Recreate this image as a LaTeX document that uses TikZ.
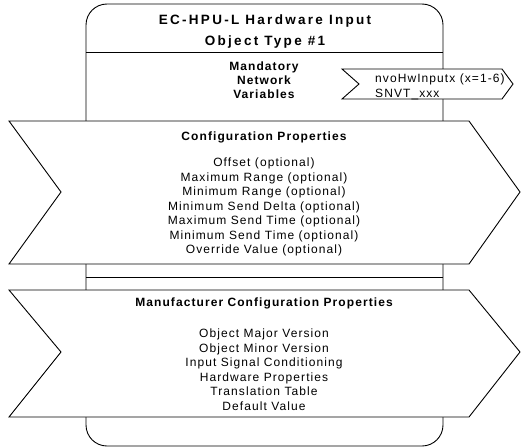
\documentclass[tikz,border=0pt]{standalone}
\usepackage{fontspec}
\newfontfamily\diafont[LetterSpace=9]{Liberation Sans}
\newfontfamily\headfont[LetterSpace=17]{Liberation Sans}
\begin{document}
\begin{tikzpicture}[x=1pt,y=-1pt,
  line/.style={draw=black,line width=0.9pt},
  chev/.style={draw=black,fill=white,line width=0.9pt,line join=miter},
  body/.style={font=\diafont\fontsize{12}{14.5}\selectfont,align=center,inner sep=0pt,anchor=base},
  bodyb/.style={font=\diafont\bfseries\fontsize{12}{14.2}\selectfont,align=center,inner sep=0pt,anchor=base},
  ttl/.style={font=\headfont\bfseries\fontsize{13.5}{21}\selectfont,align=center,inner sep=0pt,anchor=base}]
\useasboundingbox (0,0) rectangle (524,447);
% main object box
\draw[line,rounded corners=21pt] (86,4) rectangle (443,446);
\draw[line] (86,52) -- (443,52);
\draw[line] (86,277) -- (443,277);
% title (base anchor = last line baseline)
\node[ttl] (title) at (265,45.7) {EC-HPU-L Hardware Input\\Object Type \#1};
\node[bodyb] (mand) at (264,98.7) {Mandatory\\Network\\Variables};
% network variable chevron
\draw[chev] (342,69) -- (502,69) -- (513,84) -- (502,99) -- (342,99) -- (359,84) -- cycle;
\node[body,anchor=base west,align=left,font=\diafont\fontsize{12}{15}\selectfont] (nv) at (375,97.5) {nvoHwInputx (x=1-6)\\SNVT\_xxx};
% configuration properties chevron
\draw[chev] (9,121) -- (469,121) -- (520,192) -- (469,264) -- (9,264) -- (61,192) -- cycle;
\node[bodyb] (cph) at (264,140) {Configuration Properties};
\node[body] (cpl) at (264,253.5) {Offset (optional)\\Maximum Range (optional)\\Minimum Range (optional)\\Minimum Send Delta (optional)\\Maximum Send Time (optional)\\Minimum Send Time (optional)\\Override Value (optional)};
% manufacturer configuration properties chevron
\draw[chev] (9,290) -- (469,290) -- (520,352) -- (469,417) -- (9,417) -- (61,352) -- cycle;
\node[bodyb] (mch) at (264,306) {Manufacturer Configuration Properties};
\node[body] (mcl) at (264,410) {Object Major Version\\Object Minor Version\\Input Signal Conditioning\\Hardware Properties\\Translation Table\\Default Value};
\end{tikzpicture}
\end{document}
